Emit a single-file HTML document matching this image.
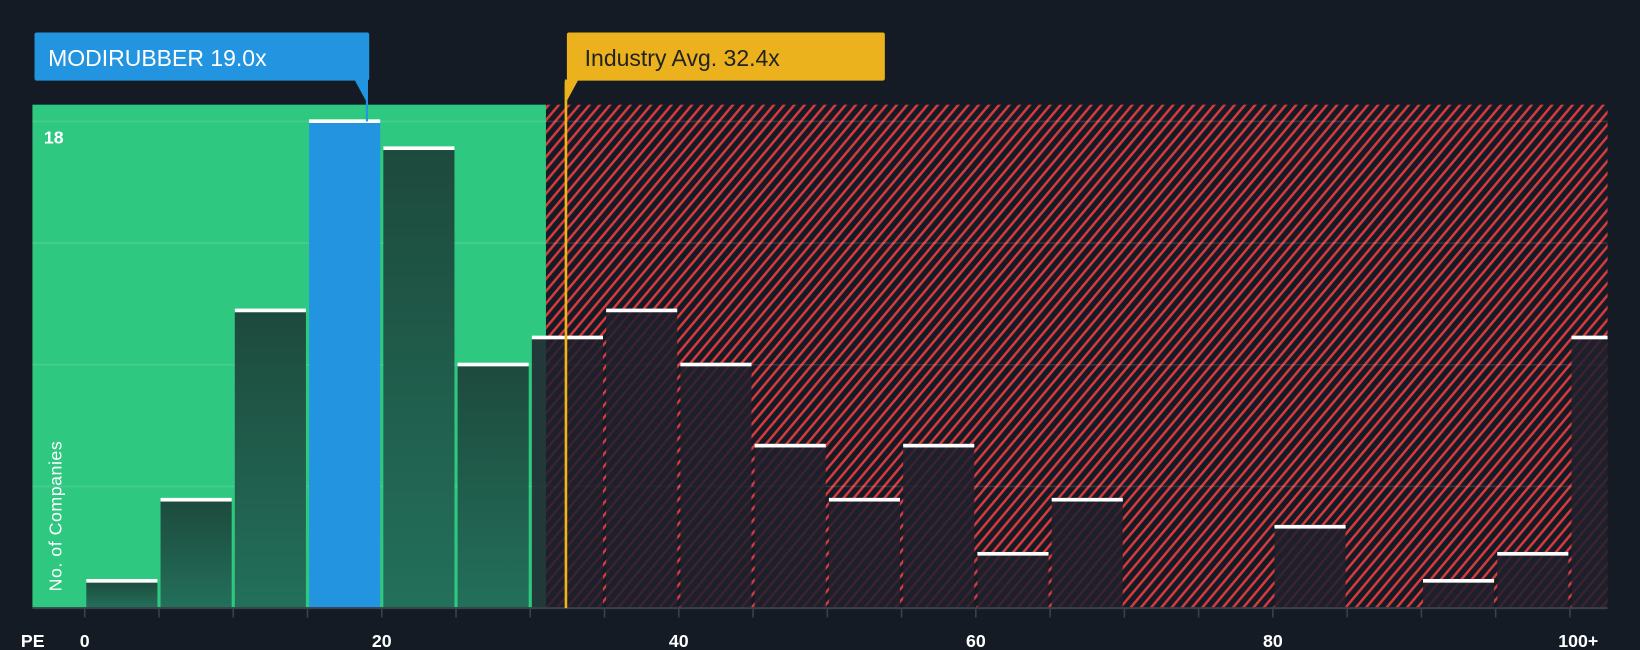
<!DOCTYPE html>
<html><head><meta charset="utf-8"><style>
html,body{margin:0;padding:0;background:#151b24;}
svg{display:block;font-family:"Liberation Sans",sans-serif;}
</style></head><body>
<svg width="1640" height="650" viewBox="0 0 1568 621" preserveAspectRatio="none" xmlns="http://www.w3.org/2000/svg">
<defs>
<pattern id="hatch" patternUnits="userSpaceOnUse" width="7.5" height="7.5" patternTransform="rotate(40)">
<rect width="7.5" height="7.5" fill="#151b24"/>
<rect width="2.4" height="7.5" fill="#d63a3f"/>
</pattern>
<linearGradient id="gbar" x1="0" y1="0" x2="0" y2="1"><stop offset="0" stop-color="#1d4a3d"/><stop offset="1" stop-color="#23705a"/></linearGradient>
</defs>
<rect width="1568" height="621" fill="#151b24"/>
<rect x="31" y="100" width="491" height="481" fill="#2ec880"/>
<rect x="522" y="100" width="1015" height="481" fill="url(#hatch)"/>
<g id="grid"></g>
<g id="bars"></g>
<line x1="31" y1="581" x2="1537" y2="581" stroke="#3a414c" stroke-width="2"/>
<g id="ticks"></g>
<text x="42" y="137" fill="#fff" font-size="17" font-weight="bold">18</text>
<text transform="translate(59,565) rotate(-90)" fill="#fff" font-size="17" letter-spacing="0.5">No. of Companies</text>
<text x="20" y="618" fill="#fff" font-size="17" font-weight="bold">PE</text>
<line id="coLine" y1="78" y2="116" stroke="#2394e0" stroke-width="2"/>
<line id="indLine" y1="78" y2="581" stroke="#f0b41c" stroke-width="2.5"/>
<g>
<rect x="33" y="31" width="320" height="46" rx="2" fill="#2394e0"/>
<polygon id="coPtr" fill="#2394e0"/>
<text x="46" y="63" fill="#fff" font-size="22">MODIRUBBER 19.0x</text>
</g>
<g>
<rect x="542" y="31" width="304" height="46" rx="2" fill="#ecb21d"/>
<polygon id="indPtr" fill="#ecb21d"/>
<text x="559" y="63" fill="#222" font-size="22">Industry Avg. 32.4x</text>
</g>
</svg>
<script>
const binStarts=[0,5,10,15,20,25,30,35,40,45,50,55,60,65,70,75,80,85,90,95,100];
const counts=[1,4,11,18,17,9,10,11,9,6,4,6,2,4,0,0,3,0,1,2,10];
const gridValues=[4.5,9,13.5,18];
const xTickValues=[0,5,10,15,20,25,30,35,40,45,50,55,60,65,70,75,80,85,90,95,100];
const xLabelValues=[0,20,40,60,80,100];
const companyPE=19.0;
const industryPE=32.4;
const NS="http://www.w3.org/2000/svg";
const x=v=>81+v*14.2;
const y=v=>581-v*(465/18);
const grid=document.getElementById('grid');
gridValues.forEach(g=>{const l=document.createElementNS(NS,'line');


l.setAttribute('x1',31);l.setAttribute('x2',1537);l.setAttribute('y1',y(g));l.setAttribute('y2',y(g));
l.setAttribute('stroke','rgba(255,255,255,0.12)');l.setAttribute('stroke-width','1.5');grid.appendChild(l);});
const bars=document.getElementById('bars');
binStarts.forEach((b,i)=>{const c=counts[i];if(!c)return;
const x0=x(b)+1.5;let w=x(b+5)-x(b)-3;if(x0+w>1537)w=1537-x0;
const isCo=companyPE>=b&&companyPE<b+5;
const g=document.createElementNS(NS,'g');


const r=document.createElementNS(NS,'rect');
r.setAttribute('x',x0);r.setAttribute('y',y(c));r.setAttribute('width',w);r.setAttribute('height',581-y(c));
const over=b>=30;
r.setAttribute('fill',isCo?'#2394e0':(over?'rgba(30,32,45,0.85)':'url(#gbar)'));
g.appendChild(r);
const t=document.createElementNS(NS,'rect');
t.setAttribute('x',x0);t.setAttribute('y',y(c)-2);t.setAttribute('width',w);t.setAttribute('height',3.5);t.setAttribute('fill','#fff');
g.appendChild(t);bars.appendChild(g);});
const ticks=document.getElementById('ticks');
xTickValues.forEach(v=>{const l=document.createElementNS(NS,'line');


l.setAttribute('x1',x(v));l.setAttribute('x2',x(v));l.setAttribute('y1',581);l.setAttribute('y2',590);
l.setAttribute('stroke','#3a414c');l.setAttribute('stroke-width','1.5');ticks.appendChild(l);});
xLabelValues.forEach(v=>{const t=document.createElementNS(NS,'text');


t.setAttribute('x',x(v)+(v===100?8:0));t.setAttribute('y',618);t.setAttribute('fill','#fff');
t.setAttribute('font-size','17');t.setAttribute('font-weight','bold');t.setAttribute('text-anchor','middle');
t.textContent=v===100?'100+':String(v);ticks.appendChild(t);});
const cx=x(companyPE),ix=x(industryPE);
const cl=document.getElementById('coLine');cl.setAttribute('x1',cx);cl.setAttribute('x2',cx);
const il=document.getElementById('indLine');il.setAttribute('x1',ix);il.setAttribute('x2',ix);
document.getElementById('coPtr').setAttribute('points',`${cx-12},76 ${cx+1},76 ${cx+1},100`);
document.getElementById('indPtr').setAttribute('points',`${ix-1},76 ${ix+12},76 ${ix-1},100`);
</script>
</body></html>
